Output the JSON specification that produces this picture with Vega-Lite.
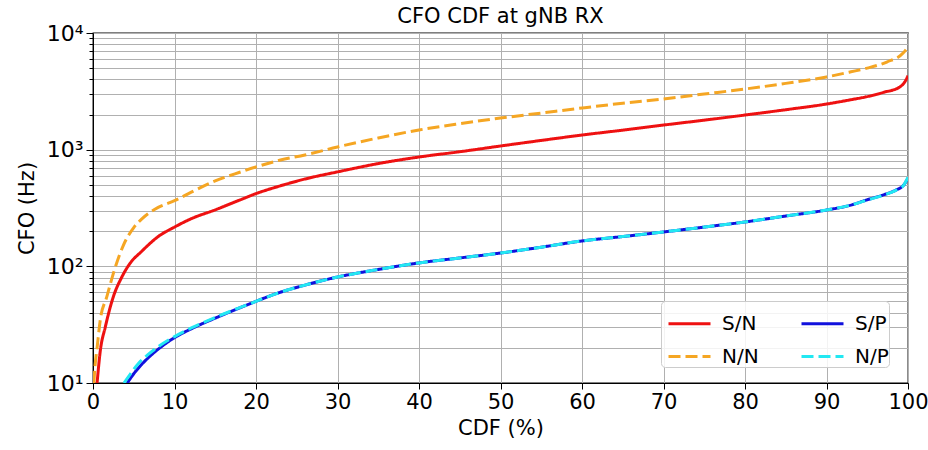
{
  "$schema": "https://vega.github.io/schema/vega-lite/v6.json",
  "autosize": "none",
  "width": 815,
  "height": 350,
  "padding": {"left": 93, "top": 33, "right": 20, "bottom": 67},
  "background": "white",
  "config": {
    "font": "DejaVu Sans",
    "view": {"stroke": "black", "strokeWidth": 1.3},
    "axis": {"domainColor": "black", "tickColor": "black", "labelColor": "black", "titleColor": "black", "gridColor": "#b0b0b0", "gridWidth": 1, "titleFontWeight": "normal"}
  },
  "title": {"text": "CFO CDF at gNB RX", "fontSize": 21, "fontWeight": "normal", "color": "black", "offset": -5},
  "data": {"values": [
    {"series": "S/N", "cdf": 0.5, "cfo": 10},
    {"series": "S/N", "cdf": 0.9, "cfo": 19},
    {"series": "S/N", "cdf": 1.5, "cfo": 30},
    {"series": "S/N", "cdf": 2.5, "cfo": 55},
    {"series": "S/N", "cdf": 3.5, "cfo": 80},
    {"series": "S/N", "cdf": 4.5, "cfo": 105},
    {"series": "S/N", "cdf": 6, "cfo": 135},
    {"series": "S/N", "cdf": 8, "cfo": 180},
    {"series": "S/N", "cdf": 10, "cfo": 217},
    {"series": "S/N", "cdf": 12, "cfo": 255},
    {"series": "S/N", "cdf": 15, "cfo": 305},
    {"series": "S/N", "cdf": 18, "cfo": 370},
    {"series": "S/N", "cdf": 20, "cfo": 420},
    {"series": "S/N", "cdf": 23, "cfo": 490},
    {"series": "S/N", "cdf": 26, "cfo": 560},
    {"series": "S/N", "cdf": 30, "cfo": 645},
    {"series": "S/N", "cdf": 35, "cfo": 760},
    {"series": "S/N", "cdf": 40, "cfo": 865},
    {"series": "S/N", "cdf": 45, "cfo": 960},
    {"series": "S/N", "cdf": 50, "cfo": 1075},
    {"series": "S/N", "cdf": 55, "cfo": 1200},
    {"series": "S/N", "cdf": 60, "cfo": 1335},
    {"series": "S/N", "cdf": 65, "cfo": 1470},
    {"series": "S/N", "cdf": 70, "cfo": 1625},
    {"series": "S/N", "cdf": 75, "cfo": 1790},
    {"series": "S/N", "cdf": 80, "cfo": 1980},
    {"series": "S/N", "cdf": 85, "cfo": 2200},
    {"series": "S/N", "cdf": 90, "cfo": 2460},
    {"series": "S/N", "cdf": 93, "cfo": 2680},
    {"series": "S/N", "cdf": 95, "cfo": 2850},
    {"series": "S/N", "cdf": 97, "cfo": 3100},
    {"series": "S/N", "cdf": 99, "cfo": 3450},
    {"series": "S/N", "cdf": 99.6, "cfo": 3800},
    {"series": "S/N", "cdf": 100, "cfo": 4300},
    {"series": "N/N", "cdf": 0.1, "cfo": 10},
    {"series": "N/N", "cdf": 0.25, "cfo": 14},
    {"series": "N/N", "cdf": 0.5, "cfo": 20},
    {"series": "N/N", "cdf": 0.9, "cfo": 35},
    {"series": "N/N", "cdf": 1.7, "cfo": 55},
    {"series": "N/N", "cdf": 2.5, "cfo": 87},
    {"series": "N/N", "cdf": 3.7, "cfo": 150},
    {"series": "N/N", "cdf": 5, "cfo": 215},
    {"series": "N/N", "cdf": 6, "cfo": 255},
    {"series": "N/N", "cdf": 8, "cfo": 320},
    {"series": "N/N", "cdf": 10, "cfo": 365},
    {"series": "N/N", "cdf": 12, "cfo": 430},
    {"series": "N/N", "cdf": 15, "cfo": 540},
    {"series": "N/N", "cdf": 18, "cfo": 640},
    {"series": "N/N", "cdf": 20, "cfo": 710},
    {"series": "N/N", "cdf": 23, "cfo": 815},
    {"series": "N/N", "cdf": 26, "cfo": 900},
    {"series": "N/N", "cdf": 30, "cfo": 1055},
    {"series": "N/N", "cdf": 35, "cfo": 1260},
    {"series": "N/N", "cdf": 40, "cfo": 1475},
    {"series": "N/N", "cdf": 45, "cfo": 1670},
    {"series": "N/N", "cdf": 50, "cfo": 1866},
    {"series": "N/N", "cdf": 55, "cfo": 2060},
    {"series": "N/N", "cdf": 60, "cfo": 2275},
    {"series": "N/N", "cdf": 65, "cfo": 2500},
    {"series": "N/N", "cdf": 70, "cfo": 2720},
    {"series": "N/N", "cdf": 75, "cfo": 3000},
    {"series": "N/N", "cdf": 80, "cfo": 3310},
    {"series": "N/N", "cdf": 85, "cfo": 3700},
    {"series": "N/N", "cdf": 90, "cfo": 4200},
    {"series": "N/N", "cdf": 93, "cfo": 4650},
    {"series": "N/N", "cdf": 95, "cfo": 5000},
    {"series": "N/N", "cdf": 97.4, "cfo": 5640},
    {"series": "N/N", "cdf": 99.4, "cfo": 6730},
    {"series": "N/N", "cdf": 100, "cfo": 7600},
    {"series": "S/P", "cdf": 4.2, "cfo": 10},
    {"series": "S/P", "cdf": 5, "cfo": 12},
    {"series": "S/P", "cdf": 6, "cfo": 14.5},
    {"series": "S/P", "cdf": 7, "cfo": 17},
    {"series": "S/P", "cdf": 8, "cfo": 19.5},
    {"series": "S/P", "cdf": 10, "cfo": 24.5},
    {"series": "S/P", "cdf": 12, "cfo": 29},
    {"series": "S/P", "cdf": 15, "cfo": 36},
    {"series": "S/P", "cdf": 19, "cfo": 47},
    {"series": "S/P", "cdf": 23, "cfo": 60},
    {"series": "S/P", "cdf": 26, "cfo": 69},
    {"series": "S/P", "cdf": 30, "cfo": 81},
    {"series": "S/P", "cdf": 35, "cfo": 94},
    {"series": "S/P", "cdf": 40, "cfo": 107},
    {"series": "S/P", "cdf": 45, "cfo": 118},
    {"series": "S/P", "cdf": 50, "cfo": 130},
    {"series": "S/P", "cdf": 55, "cfo": 146},
    {"series": "S/P", "cdf": 60, "cfo": 165},
    {"series": "S/P", "cdf": 65, "cfo": 180},
    {"series": "S/P", "cdf": 70, "cfo": 197},
    {"series": "S/P", "cdf": 75, "cfo": 217},
    {"series": "S/P", "cdf": 80, "cfo": 240},
    {"series": "S/P", "cdf": 85, "cfo": 270},
    {"series": "S/P", "cdf": 90, "cfo": 304},
    {"series": "S/P", "cdf": 93, "cfo": 335},
    {"series": "S/P", "cdf": 95, "cfo": 372},
    {"series": "S/P", "cdf": 97, "cfo": 410},
    {"series": "S/P", "cdf": 98.5, "cfo": 450},
    {"series": "S/P", "cdf": 99.5, "cfo": 500},
    {"series": "S/P", "cdf": 100, "cfo": 570},
    {"series": "N/P", "cdf": 3.8, "cfo": 10},
    {"series": "N/P", "cdf": 4.6, "cfo": 12},
    {"series": "N/P", "cdf": 5.6, "cfo": 14.8},
    {"series": "N/P", "cdf": 6.7, "cfo": 17.4},
    {"series": "N/P", "cdf": 7.8, "cfo": 20},
    {"series": "N/P", "cdf": 10, "cfo": 25},
    {"series": "N/P", "cdf": 12, "cfo": 29.5},
    {"series": "N/P", "cdf": 15, "cfo": 36.5},
    {"series": "N/P", "cdf": 19, "cfo": 47},
    {"series": "N/P", "cdf": 23, "cfo": 60},
    {"series": "N/P", "cdf": 26, "cfo": 69},
    {"series": "N/P", "cdf": 30, "cfo": 81},
    {"series": "N/P", "cdf": 35, "cfo": 94},
    {"series": "N/P", "cdf": 40, "cfo": 107},
    {"series": "N/P", "cdf": 45, "cfo": 118},
    {"series": "N/P", "cdf": 50, "cfo": 130},
    {"series": "N/P", "cdf": 55, "cfo": 146},
    {"series": "N/P", "cdf": 60, "cfo": 165},
    {"series": "N/P", "cdf": 65, "cfo": 180},
    {"series": "N/P", "cdf": 70, "cfo": 197},
    {"series": "N/P", "cdf": 75, "cfo": 217},
    {"series": "N/P", "cdf": 80, "cfo": 240},
    {"series": "N/P", "cdf": 85, "cfo": 270},
    {"series": "N/P", "cdf": 90, "cfo": 304},
    {"series": "N/P", "cdf": 93, "cfo": 335},
    {"series": "N/P", "cdf": 95, "cfo": 370},
    {"series": "N/P", "cdf": 97, "cfo": 408},
    {"series": "N/P", "cdf": 98.5, "cfo": 448},
    {"series": "N/P", "cdf": 99.5, "cfo": 500},
    {"series": "N/P", "cdf": 100, "cfo": 580}
  ]},
  "mark": {"type": "line", "strokeWidth": 3, "clip": true, "interpolate": "monotone"},
  "encoding": {
    "x": {
      "field": "cdf", "type": "quantitative",
      "scale": {"domain": [0, 100], "nice": false, "zero": false},
      "axis": {
        "title": "CDF (%)", "titleFontSize": 21, "titlePadding": 5,
        "values": [0, 10, 20, 30, 40, 50, 60, 70, 80, 90, 100],
        "labelFontSize": 21, "labelPadding": 2, "tickSize": 6, "labelFlush": false, "labelOverlap": false,
        "grid": true
      }
    },
    "y": {
      "field": "cfo", "type": "quantitative",
      "scale": {"type": "log", "domain": [10, 10000], "nice": false},
      "axis": {
        "title": "CFO (Hz)", "titleFontSize": 21, "titlePadding": 9,
        "values": [10, 20, 30, 40, 50, 60, 70, 80, 90, 100, 200, 300, 400, 500, 600, 700, 800, 900, 1000, 2000, 3000, 4000, 5000, 6000, 7000, 8000, 9000, 10000],
        "labelExpr": "datum.value == 10 ? '10¹' : datum.value == 100 ? '10²' : datum.value == 1000 ? '10³' : datum.value == 10000 ? '10⁴' : ''",
        "labelFontSize": 22, "labelPadding": 3, "labelOverlap": false, "labelFlush": false,
        "tickSize": {"condition": {"test": "datum.value == 10 || datum.value == 100 || datum.value == 1000 || datum.value == 10000", "value": 7}, "value": 4},
        "grid": true
      }
    },
    "color": {
      "field": "series", "type": "nominal",
      "scale": {"domain": ["S/N", "N/N", "S/P", "N/P"], "range": ["#ee1111", "#f5a623", "#1111dd", "#22e8f2"]},
      "legend": {
        "title": null, "orient": "none", "legendX": 568, "legendY": 268,
        "columns": 2, "columnPadding": 35, "rowPadding": -10,
        "symbolType": "stroke", "symbolSize": 1764, "symbolStrokeWidth": 3, "symbolOffset": 6,
        "labelFontSize": 20, "labelOffset": 10, "labelColor": "black",
        "fillColor": "rgba(255,255,255,0.85)", "strokeColor": "#cccccc", "padding": 0, "cornerRadius": 4
      }
    },
    "strokeDash": {
      "field": "series", "type": "nominal",
      "scale": {"domain": ["S/N", "N/N", "S/P", "N/P"], "range": [[1, 0], [12, 5], [1, 0], [12, 5]]}
    }
  }
}
